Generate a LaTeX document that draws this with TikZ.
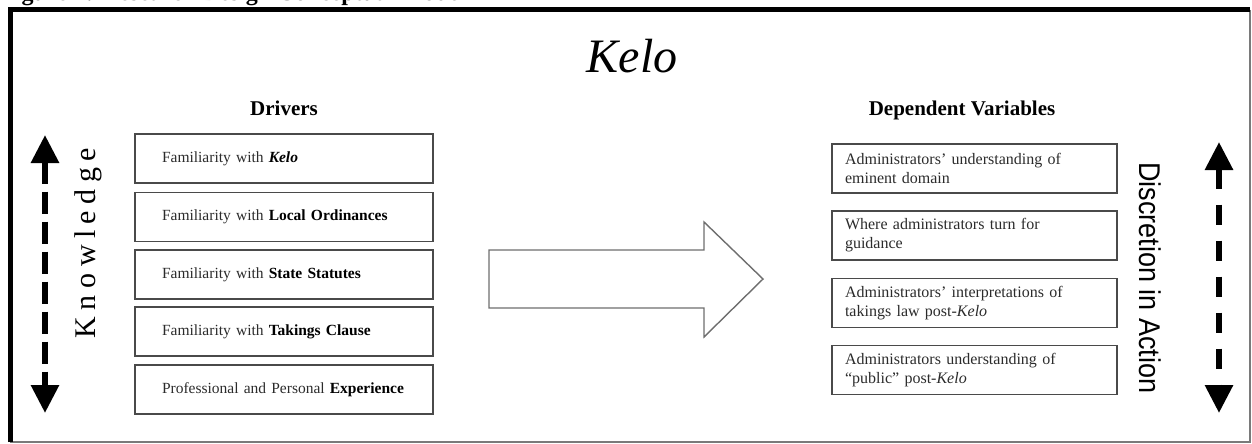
\documentclass[tikz,border=0pt]{standalone}
\usepackage{fontspec}
\setmainfont{Liberation Serif}
\newfontfamily\narrowsans[FakeStretch=0.9]{Liberation Sans}
\usetikzlibrary{arrows.meta}
\definecolor{boxline}{HTML}{4A4A4A}
\definecolor{arrowline}{HTML}{6E6E6E}
\definecolor{bodytext}{HTML}{2B2B2B}
\definecolor{frameshade}{HTML}{7A7A7A}
% spacing between the letters of the side label
\newcommand\ksp{\kern6.5pt}
% bold keyword inside a box
\newcommand\kw[1]{\textcolor{black}{\textbf{#1}}}
% one unbroken line inside a fixed-width box
\newcommand\oneline[1]{\mbox{#1}}

\begin{document}
\begin{tikzpicture}[x=1pt,y=-1pt,
  driverbox/.style={draw=boxline, line width=1.6pt, minimum height=49pt,
    text width=244pt, inner xsep=27pt, inner ysep=0pt, align=left,
    font=\fontsize{15.5}{19}\selectfont, text=bodytext},
  depbox/.style={draw=boxline, line width=1.6pt, minimum height=49pt,
    text width=259pt, inner xsep=13pt, inner ysep=0pt, align=left,
    font=\fontsize{16}{19}\selectfont, text=bodytext},
  heading/.style={anchor=base, inner sep=0pt, font=\bfseries\fontsize{21}{25}\selectfont},
  sidearrow/.style={line width=6pt,
    {Triangle[length=28pt,width=27pt]}-{Triangle[length=28pt,width=27pt]}},
]
\useasboundingbox (0,0) rectangle (1252,444);

% caption above the frame (mostly cut off by the page edge)
\node[anchor=base west, inner sep=0pt, font=\bfseries\fontsize{24}{28}\selectfont]
  (caption) at (0,1) {Figure 1: Research Design Conceptual Model};

% frame
\draw[frameshade, line width=2pt] (1250,10) -- (1250,442) -- (10,442);
\draw[black, line width=5pt] (10.5,442) -- (10.5,9.5) -- (1250,9.5);

% title
\node[anchor=base, inner sep=0pt, font=\itshape\fontsize{48}{56}\selectfont]
  (title) at (632,72) {Kelo};

% column headings
\node[heading] (drivers) at (284,115) {Drivers};
\node[heading] (depvars) at (962,115) {Dependent Variables};

% drivers
\node[driverbox] (d1) at (284,158.5) {\oneline{Familiarity with \kw{\textit{Kelo}}}};
\node[driverbox] (d2) at (284,217)   {\oneline{Familiarity with \kw{Local Ordinances}}};
\node[driverbox] (d3) at (284,274.5) {\oneline{Familiarity with \kw{State Statutes}}};
\node[driverbox] (d4) at (284,331.5) {\oneline{Familiarity with \kw{Takings Clause}}};
\node[driverbox] (d5) at (284,389.5) {\oneline{Professional and Personal \kw{Experience}}};

% dependent variables
\node[depbox] (v1) at (974.5,168.5) {Administrators’ understanding of\\eminent domain};
\node[depbox] (v2) at (974.5,235.5) {Where administrators turn for\\guidance};
\node[depbox] (v3) at (974.5,303)   {Administrators’ interpretations of\\takings law post-\textit{Kelo}};
\node[depbox] (v4) at (974.5,370)   {Administrators understanding of\\“public” post-\textit{Kelo}};

% block arrow between the columns
\draw[arrowline, line width=1.4pt, line join=miter, fill=white]
  (489,250) -- (704,250) -- (704,222) -- (763,279) -- (704,337)
  -- (704,308) -- (489,308) -- cycle;

% side labels
\node[rotate=90, inner sep=0pt, font=\fontsize{30}{34}\selectfont]
  (knowledge) at (88,243) {K\ksp n\ksp o\ksp w\ksp l\ksp e\ksp d\ksp g\ksp e};
\node[rotate=-90, inner sep=0pt, font=\narrowsans\fontsize{30}{34}\selectfont]
  (discretion) at (1150,278) {Discretion in Action};

% two-headed dashed arrows
\coordinate (ktop) at (45,135);
\coordinate (kbot) at (45,413);
\coordinate (dtop) at (1219,142);
\coordinate (dbot) at (1219,413);
\draw[sidearrow, dash pattern=on 22pt off 8pt] (ktop) -- (kbot);
\draw[sidearrow, dash pattern=on 20pt off 16pt] (dtop) -- (dbot);
\end{tikzpicture}
\end{document}
